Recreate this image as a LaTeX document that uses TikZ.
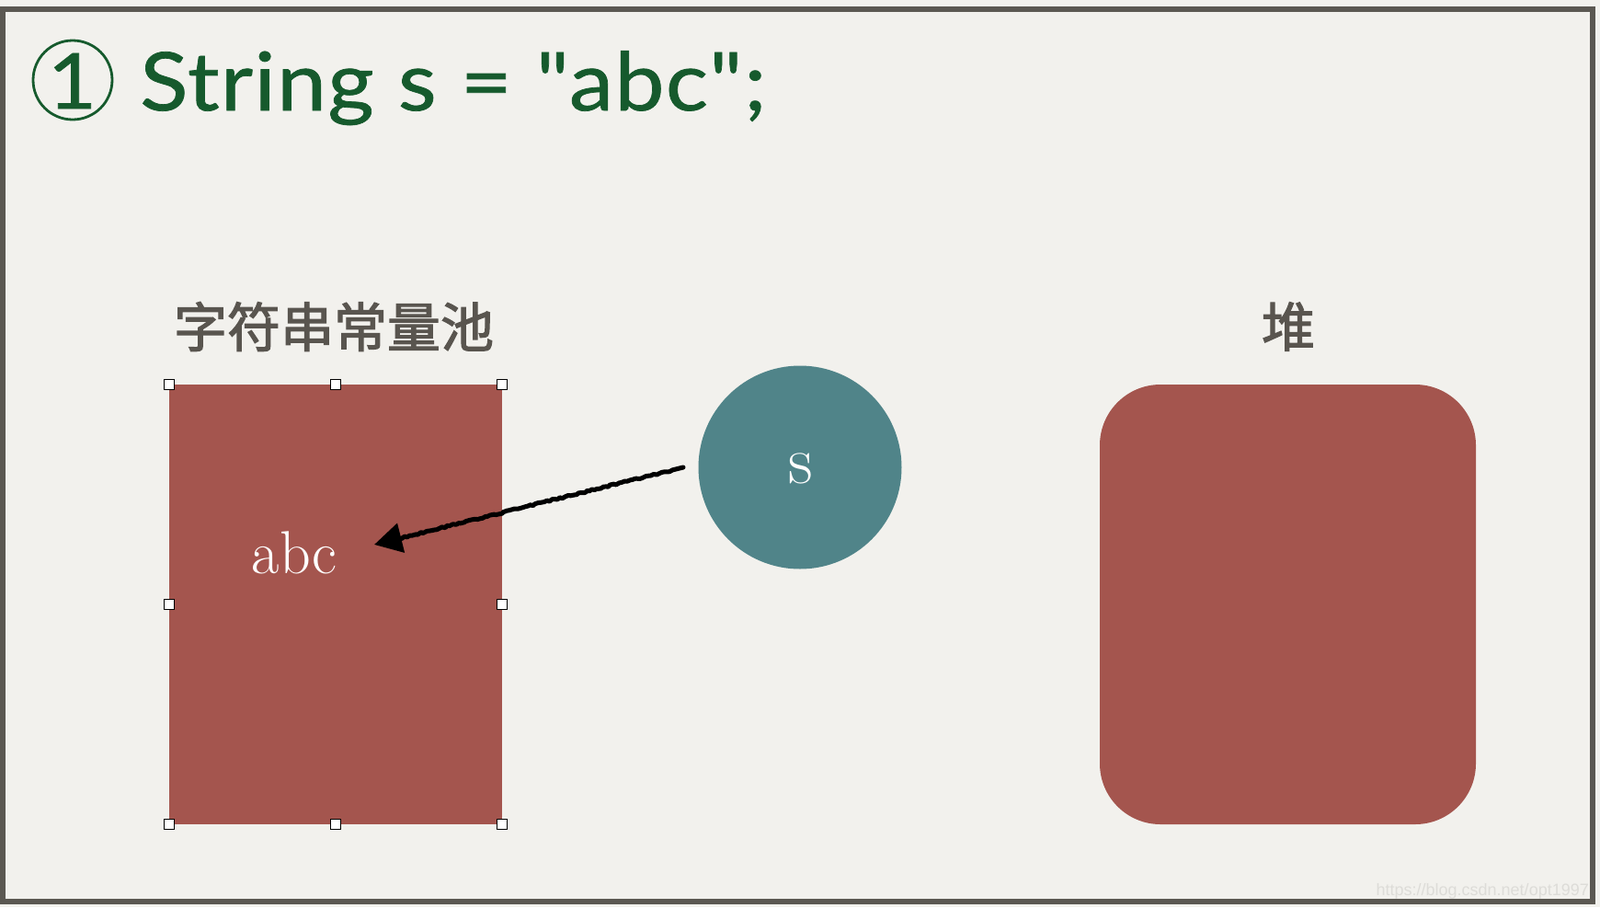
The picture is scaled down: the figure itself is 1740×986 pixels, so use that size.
\documentclass[tikz,border=0pt]{standalone}
\usepackage{fontspec}
\usetikzlibrary{arrows.meta,decorations.pathmorphing}
\newfontfamily\titlefont{Lato}[FakeStretch=1.1, FakeBold=0.8, LetterSpace=1.5]
\newfontfamily\cjk{Noto Sans CJK SC}[FakeBold=2]
\newfontfamily\wmfont{Liberation Sans}
\definecolor{bg}{HTML}{F2F1ED}
\definecolor{framegray}{HTML}{5B5852}
\definecolor{titlegreen}{HTML}{165A2D}
\definecolor{poolred}{HTML}{A4554E}
\definecolor{teal}{HTML}{508489}
\definecolor{labelgray}{HTML}{59554F}
\definecolor{wmgray}{HTML}{DDDCD8}
\tikzset{
  handle/.style={draw=black, line width=1.3pt, fill=white, minimum size=11pt, inner sep=0pt, rectangle},
  label/.style={text=labelgray, font=\cjk\fontsize{58}{60}\selectfont, inner sep=0pt},
  pointer/.style={line width=5pt, black, line cap=round, line join=round,
    decorate, decoration={random steps, segment length=3pt, amplitude=1pt, pre length=12pt, post length=14pt},
    -{Triangle[length=30pt,width=32pt]}},
}
\begin{document}
\begin{tikzpicture}[x=1pt,y=-1pt]
\useasboundingbox (0,0) rectangle (1740,986);
\fill[bg] (0,0) rectangle (1740,986);
\draw[framegray, line width=5.5pt] (2.75,10) rectangle (1732,980);
% title
\node[draw=titlegreen, line width=2.8pt, circle, minimum size=86pt, inner sep=0pt] (num) at (79,87) {};
\node[text=titlegreen, font=\titlefont\fontsize{84}{90}\selectfont, inner sep=0pt] (numtxt) at (78.5,88) {1};
\node[text=titlegreen, font=\titlefont\fontsize{88}{90}\selectfont, anchor=base west, inner sep=0pt] (title) at (152,120) {String s = "abc";};
% labels
\node[label] (poollbl) at (363,355) {字符串常量池};
\node[label] (heaplbl) at (1401,355) {堆};
% string pool
\fill[poolred] (184,418) rectangle (546,896);
\node[inner sep=0pt] (pool) at (365,657) {};
\node[text=white, font=\fontsize{66}{68}\selectfont, anchor=base, inner sep=0pt] (abc) at (320,623) {abc};
% handles
\node[handle] (h1) at (184,418) {};
\node[handle] (h2) at (365,418) {};
\node[handle] (h3) at (546,418) {};
\node[handle] (h4) at (184,657) {};
\node[handle] (h5) at (546,657) {};
\node[handle] (h6) at (184,896) {};
\node[handle] (h7) at (365,896) {};
\node[handle] (h8) at (546,896) {};
% variable s
\node[circle, fill=teal, minimum size=221pt, inner sep=0pt] (scircle) at (870,508) {};
\node[text=white, font=\fontsize{74}{76}\selectfont, inner sep=0pt] (stxt) at (871,509) {s};
% heap
\fill[poolred, rounded corners=66pt] (1196,418) rectangle (1605,896);
% arrow
\coordinate (astart) at (743,508);
\coordinate (atip) at (407,592);
\draw[pointer] (astart) -- (atip);
% watermark
\node[text=wmgray, font=\wmfont\fontsize{18}{20}\selectfont, anchor=base east, inner sep=0pt] (wm) at (1728,973) {https://blog.csdn.net/opt1997};
\end{tikzpicture}
\end{document}
